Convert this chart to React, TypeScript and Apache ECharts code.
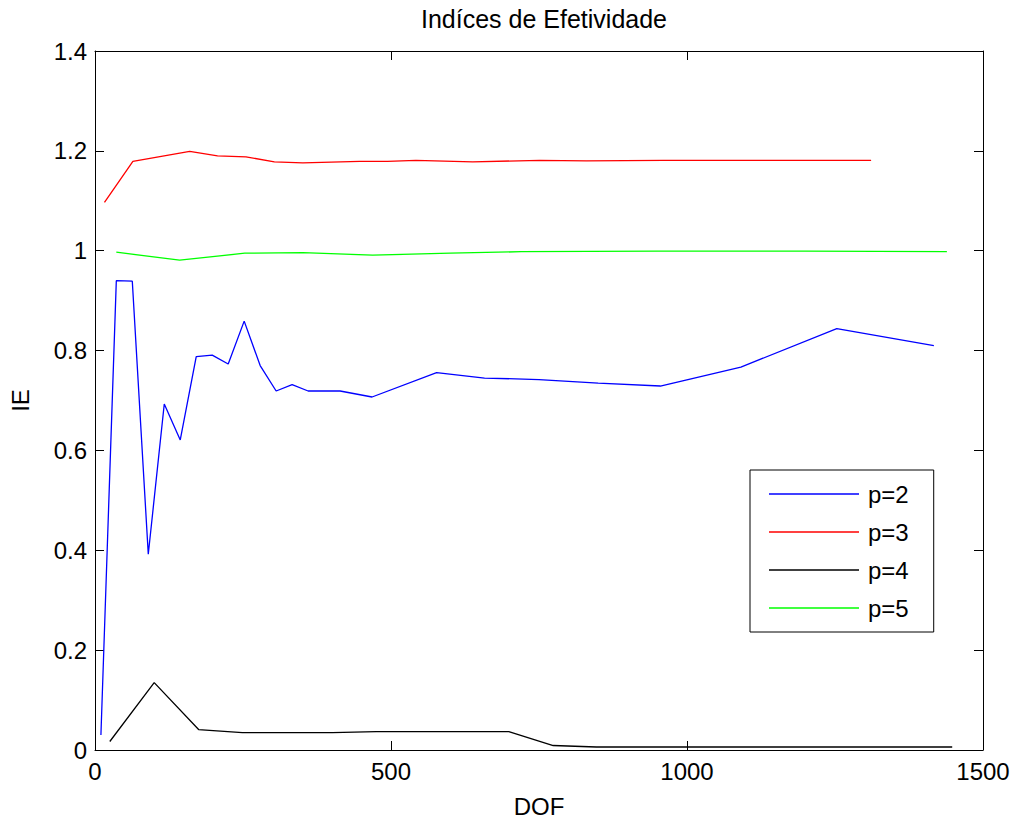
import React, { useEffect, useRef } from "react";
import * as echarts from "echarts";

const titleText = "Indíces de Efetividade";
const xName = "DOF";
const yName = "IE";
const xTicks = [0, 500, 1000, 1500];
const yTicks = [0, 0.2, 0.4, 0.6, 0.8, 1, 1.2, 1.4];

const p2X = [10, 36, 63, 90, 117, 144, 171, 198, 225, 252, 279, 306, 333, 360, 414, 468, 577, 658, 750, 850, 955, 1091, 1253, 1417];
const p2Y = [0.03, 0.94, 0.939, 0.392, 0.693, 0.621, 0.788, 0.791, 0.773, 0.859, 0.77, 0.719, 0.732, 0.719, 0.719, 0.707, 0.756, 0.745, 0.742, 0.735, 0.729, 0.767, 0.844, 0.81];

const p3X = [16, 64, 160, 207, 255, 303, 351, 447, 494, 542, 638, 751, 830, 960, 1100, 1311];
const p3Y = [1.097, 1.179, 1.199, 1.19, 1.188, 1.178, 1.176, 1.179, 1.179, 1.181, 1.178, 1.181, 1.18, 1.181, 1.181, 1.181];

const p4X = [25, 100, 175, 249, 401, 475, 699, 774, 847, 1000, 1448];
const p4Y = [0.017, 0.135, 0.041, 0.035, 0.035, 0.037, 0.037, 0.009, 0.006, 0.006, 0.006];

const p5X = [36, 143, 253, 351, 469, 600, 720, 950, 1200, 1439];
const p5Y = [0.997, 0.981, 0.995, 0.996, 0.991, 0.995, 0.998, 0.999, 0.999, 0.998];

const seriesNames = ["p=2", "p=3", "p=4", "p=5"];
const seriesColors = ["#0000ff", "#ff0000", "#000000", "#00ff00"];

const zip = (xs: number[], ys: number[]) => xs.map((x, i) => [x, ys[i]]);

export default function App() {
  const ref = useRef<HTMLDivElement>(null);
  useEffect(() => {
    document.body.style.margin = "0";
    if (!ref.current) return;
    const chart = echarts.init(ref.current, null, { renderer: "svg" });
    const font = "Liberation Sans, Arial, sans-serif";
    const datasets = [zip(p2X, p2Y), zip(p3X, p3Y), zip(p4X, p4Y), zip(p5X, p5Y)];
    const axisCommon = {
      axisLine: { show: true, onZero: false, lineStyle: { color: "#000", width: 1 } },
      axisTick: { show: true, inside: true, length: 9, lineStyle: { color: "#000" } },
      splitLine: { show: false },
    };
    chart.setOption({
      animation: false,
      backgroundColor: "#fff",
      title: {
        text: titleText,
        left: 539,
        top: 1,
        textAlign: "center",
        textStyle: { fontFamily: font, fontSize: 25, fontWeight: "normal", color: "#000" },
      },
      grid: { left: 95, right: 33, top: 51, bottom: 69, containLabel: false, outerBoundsMode: "none" },
      legend: {
        orient: "vertical",
        left: 750,
        top: 470,
        data: seriesNames,
        icon: "rect",
        itemWidth: 90,
        itemHeight: 1.5,
        itemGap: 14,
        padding: [12, 25, 12, 19],
        borderColor: "#000",
        borderWidth: 1,
        backgroundColor: "#fff",
        textStyle: { fontFamily: font, fontSize: 24, color: "#000", padding: [0, 0, 0, 4] },
      },
      xAxis: [
        {
          type: "value",
          position: "bottom",
          min: xTicks[0],
          max: xTicks[xTicks.length - 1],
          interval: 500,
          name: xName,
          nameLocation: "middle",
          nameGap: 46,
          nameTextStyle: { fontFamily: font, fontSize: 24, lineHeight: 20, color: "#000" },
          axisLabel: { fontFamily: font, fontSize: 24, color: "#000", margin: 9, formatter: (v: number) => String(v) },
          ...axisCommon,
        },
        {
          type: "value",
          position: "top",
          min: xTicks[0],
          max: xTicks[xTicks.length - 1],
          interval: 500,
          axisLabel: { show: false },
          ...axisCommon,
        },
      ],
      yAxis: [
        {
          type: "value",
          position: "left",
          min: yTicks[0],
          max: yTicks[yTicks.length - 1],
          interval: 0.2,
          name: yName,
          nameLocation: "middle",
          nameGap: 63,
          nameTextStyle: { fontFamily: font, fontSize: 24, color: "#000" },
          axisLabel: {
            fontFamily: font,
            fontSize: 24,
            color: "#000",
            margin: 8,
            formatter: (v: number) => String(+v.toFixed(1)),
          },
          ...axisCommon,
        },
        {
          type: "value",
          position: "right",
          min: yTicks[0],
          max: yTicks[yTicks.length - 1],
          interval: 0.2,
          axisLabel: { show: false },
          ...axisCommon,
        },
      ],
      series: seriesNames.map((name, i) => ({
        name,
        type: "line",
        data: datasets[i],
        showSymbol: false,
        symbol: "none",
        color: seriesColors[i],
        lineStyle: { color: seriesColors[i], width: 1.3 },
        xAxisIndex: 0,
        yAxisIndex: 0,
      })),
    });
    return () => chart.dispose();
  }, []);
  return <div ref={ref} style={{ width: 1016, height: 819 }} />;
}
